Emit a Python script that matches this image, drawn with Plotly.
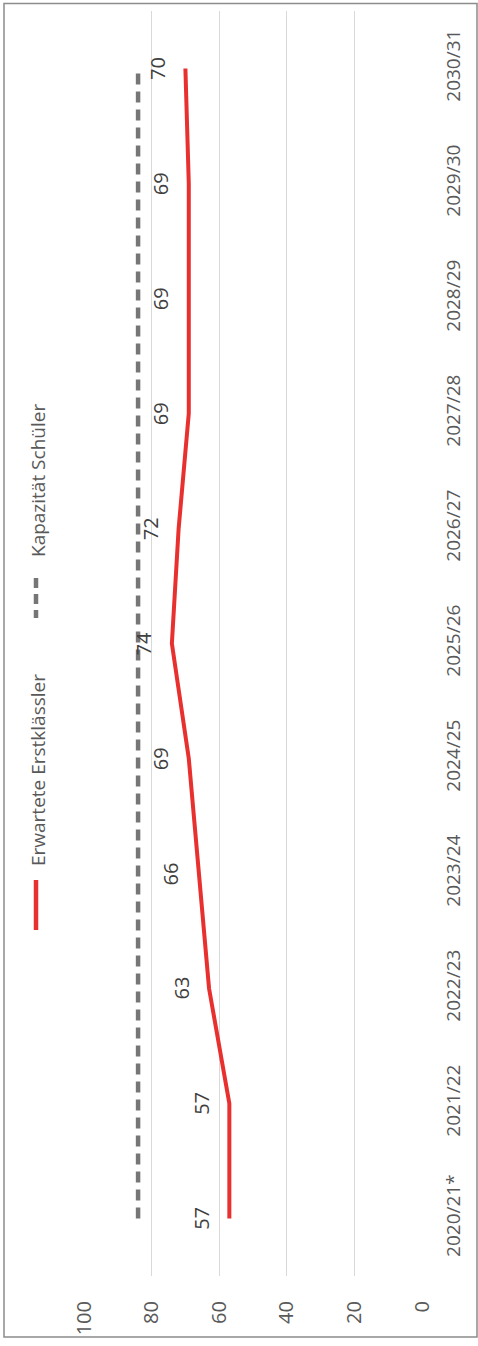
import plotly.graph_objects as go

categories = ["2020/21*", "2021/22", "2022/23", "2023/24", "2024/25", "2025/26",
              "2026/27", "2027/28", "2028/29", "2029/30", "2030/31"]
erstklaessler = [57, 57, 63, 66, 69, 74, 72, 69, 69, 69, 70]
kapazitaet = [84, 84, 84, 84, 84, 84, 84, 84, 84, 84, 84]
value_ticks = [0, 20, 40, 60, 80, 100]
legend_names = ["Erwartete Erstklässler", "Kapazität Schüler"]

RED = "#E8302F"
GRAY = "#767676"
FONT = "Open Sans"

W, H = 478, 1346
L, R, T, B = 84, 56, 11, 70
pw, ph = W - L - R, H - T - B

def px_x(x):
    return (x - L) / pw

def px_y(y):
    return 1 - (y - T) / ph

fig = go.Figure()
fig.add_trace(go.Scatter(x=kapazitaet, y=categories, mode="lines", name=legend_names[1],
                         line=dict(color=GRAY, width=4.5, dash="11px,7px"), showlegend=False))
fig.add_trace(go.Scatter(x=erstklaessler, y=categories, mode="lines", name=legend_names[0],
                         line=dict(color=RED, width=4), showlegend=False))

annotations = []
for c, v in zip(categories, erstklaessler):
    annotations.append(dict(x=v, y=c, xref="x", yref="y", text=str(v), showarrow=False,
                            textangle=-90, xshift=-28, xanchor="center", yanchor="middle",
                            font=dict(family=FONT, size=20, color="#404040")))

# legend drawn rotated
annotations.append(dict(x=px_x(38), y=px_y(770), xref="paper", yref="paper",
                        xanchor="center", yanchor="middle",
                        text=legend_names[0], showarrow=False, textangle=-90,
                        font=dict(family=FONT, size=19, color="#595959")))
annotations.append(dict(x=px_x(38), y=px_y(481), xref="paper", yref="paper",
                        xanchor="center", yanchor="middle",
                        text=legend_names[1], showarrow=False, textangle=-90,
                        font=dict(family=FONT, size=19, color="#595959")))

shapes = [
    dict(type="line", xref="paper", yref="paper", x0=px_x(36), x1=px_x(36),
         y0=px_y(880), y1=px_y(930), line=dict(color=RED, width=4.5)),
    dict(type="line", xref="paper", yref="paper", x0=px_x(36), x1=px_x(36),
         y0=px_y(578), y1=px_y(618), line=dict(color=GRAY, width=4.5, dash="10px,6px")),
    dict(type="rect", xref="paper", yref="paper", x0=px_x(4), x1=px_x(477),
         y0=px_y(1337), y1=px_y(3.5), line=dict(color="#8C8C8C", width=1.5),
         fillcolor="rgba(0,0,0,0)", layer="below"),
]

fig.update_layout(
    width=W, height=H,
    margin=dict(l=L, r=R, t=T, b=B),
    paper_bgcolor="white", plot_bgcolor="white",
    showlegend=False,
    annotations=annotations,
    shapes=shapes,
    xaxis=dict(range=[100, 0], tickvals=value_ticks, ticktext=[str(v) for v in value_ticks],
               showgrid=True, gridcolor="#D9D9D9", gridwidth=1.3, zeroline=False,
               showline=False, ticks="", tickangle=-90, ticklabelstandoff=20,
               tickfont=dict(family=FONT, size=20, color="#595959")),
    yaxis=dict(type="category", categoryorder="array", categoryarray=categories,
               range=[-0.5, len(categories) - 0.5], side="right",
               showgrid=False, zeroline=False, showline=False, ticks="",
               tickangle=-90, ticklabelstandoff=18,
               tickfont=dict(family=FONT, size=19, color="#595959")),
)

fig.write_html("out.html", config={"displayModeBar": False},
               post_script="document.body.style.margin='0';")
